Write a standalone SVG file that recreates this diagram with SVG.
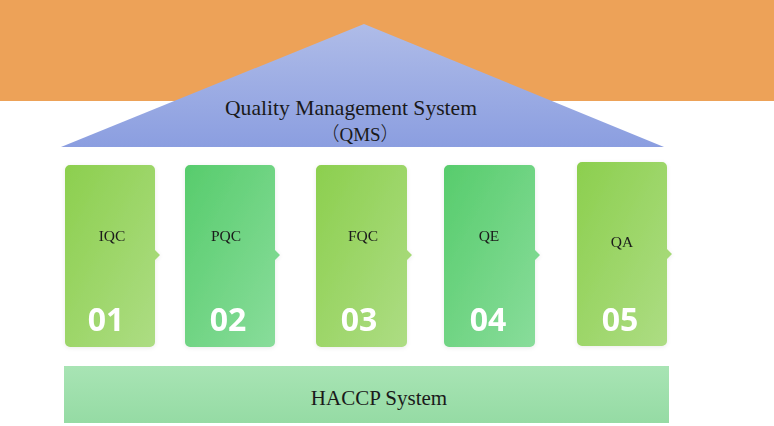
<svg xmlns="http://www.w3.org/2000/svg" width="774" height="426" viewBox="0 0 774 426">
<defs>
<linearGradient id="roof" x1="0" y1="0" x2="0" y2="1">
<stop offset="0" stop-color="#AFBCE8"/>
<stop offset="1" stop-color="#8B9EE0"/>
</linearGradient>
<linearGradient id="gy" x1="0" y1="0" x2="1" y2="1">
<stop offset="0" stop-color="#8CCF4E"/>
<stop offset="1" stop-color="#AEDD85"/>
</linearGradient>
<linearGradient id="gg" x1="0" y1="0" x2="1" y2="1">
<stop offset="0" stop-color="#57CC6C"/>
<stop offset="1" stop-color="#8ADD9C"/>
</linearGradient>
<linearGradient id="base" x1="0" y1="0" x2="0" y2="1">
<stop offset="0" stop-color="#A8E4B4"/>
<stop offset="1" stop-color="#95DBA4"/>
</linearGradient>
<filter id="sh" x="-20%" y="-10%" width="140%" height="120%">
<feDropShadow dx="0" dy="1" stdDeviation="2" flood-color="#000" flood-opacity="0.08"/>
</filter>
</defs>
<style>
.lbl{font-family:"Liberation Serif",serif;font-size:15.5px;fill:#1a1a1a;text-anchor:middle}
.num{font-family:"Open Sans","Liberation Sans",sans-serif;font-weight:700;font-size:32px;fill:#ffffff;text-anchor:middle}
.big{font-family:"Liberation Serif","Noto Sans CJK SC",serif;fill:#1a1a1a;text-anchor:middle}
.cjk{font-family:"Noto Sans CJK SC",sans-serif;font-weight:300}
</style>
<rect x="0" y="0" width="774" height="426" fill="#ffffff"/>
<rect x="0" y="0" width="774" height="101" fill="#EDA258"/>
<g id="roof-node">
<polygon points="364,24 664,147 61,147" fill="url(#roof)"/>
<text class="big" x="351" y="115" font-size="21" textLength="252" lengthAdjust="spacingAndGlyphs">Quality Management System</text>
<text class="big" x="360" y="141" font-size="19"><tspan class="cjk">（</tspan>QMS<tspan class="cjk">）</tspan></text>
</g>
<g id="n1" filter="url(#sh)">
<path d="M70,165 H150 A5,5 0 0 1 155,170 V250 L160,255 L155,260 V342 A5,5 0 0 1 150,347 H70 A5,5 0 0 1 65,342 V170 A5,5 0 0 1 70,165 Z" fill="url(#gy)"/>
<text class="lbl" x="112" y="241">IQC</text>
<text class="num" x="106" y="331">01</text>
</g>
<g id="n2" filter="url(#sh)">
<path d="M190,165 H270 A5,5 0 0 1 275,170 V250 L280,255 L275,260 V342 A5,5 0 0 1 270,347 H190 A5,5 0 0 1 185,342 V170 A5,5 0 0 1 190,165 Z" fill="url(#gg)"/>
<text class="lbl" x="226" y="241">PQC</text>
<text class="num" x="228" y="331">02</text>
</g>
<g id="n3" filter="url(#sh)">
<path d="M321,165 H402 A5,5 0 0 1 407,170 V250 L412,255 L407,260 V342 A5,5 0 0 1 402,347 H321 A5,5 0 0 1 316,342 V170 A5,5 0 0 1 321,165 Z" fill="url(#gy)"/>
<text class="lbl" x="363" y="241">FQC</text>
<text class="num" x="359" y="331">03</text>
</g>
<g id="n4" filter="url(#sh)">
<path d="M449,165 H530 A5,5 0 0 1 535,170 V250 L540,255 L535,260 V342 A5,5 0 0 1 530,347 H449 A5,5 0 0 1 444,342 V170 A5,5 0 0 1 449,165 Z" fill="url(#gg)"/>
<text class="lbl" x="489" y="241">QE</text>
<text class="num" x="488" y="331">04</text>
</g>
<g id="n5" filter="url(#sh)">
<path d="M582,162 H662 A5,5 0 0 1 667,167 V249 L672,254 L667,259 V341 A5,5 0 0 1 662,346 H582 A5,5 0 0 1 577,341 V167 A5,5 0 0 1 582,162 Z" fill="url(#gy)"/>
<text class="lbl" x="622" y="247">QA</text>
<text class="num" x="620" y="331">05</text>
</g>
<g id="haccp">
<rect x="64" y="366" width="605" height="57" fill="url(#base)"/>
<text class="big" x="379" y="405" font-size="21">HACCP System</text>
</g>
<g id="connectors"></g>
</svg>
